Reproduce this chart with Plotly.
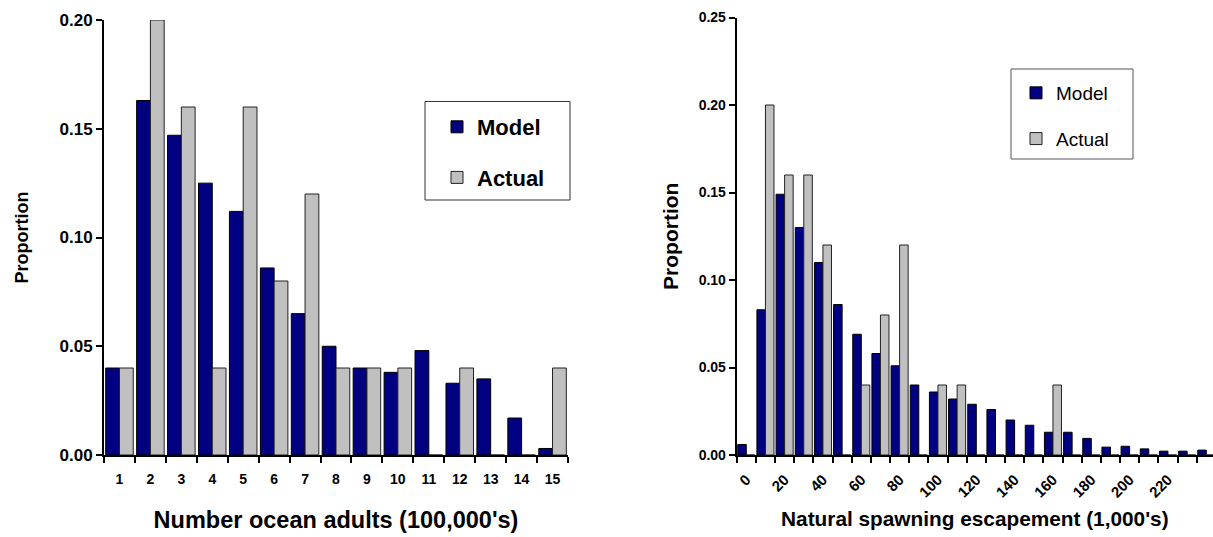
import plotly.graph_objects as go

# ---------------- data ----------------
left_categories = ["1", "2", "3", "4", "5", "6", "7", "8", "9", "10", "11", "12", "13", "14", "15"]
left_model = [0.040, 0.163, 0.147, 0.125, 0.112, 0.086, 0.065, 0.050, 0.040, 0.038, 0.048, 0.033, 0.035, 0.017, 0.003]
left_actual = [0.04, 0.20, 0.16, 0.04, 0.16, 0.08, 0.12, 0.04, 0.04, 0.04, 0.0, 0.04, 0.0, 0.0, 0.04]

right_categories = ["0", "10", "20", "30", "40", "50", "60", "70", "80", "90", "100", "110", "120",
                    "130", "140", "150", "160", "170", "180", "190", "200", "210", "220", "230", "240"]
right_model = [0.006, 0.083, 0.149, 0.130, 0.110, 0.086, 0.069, 0.058, 0.051, 0.040, 0.036, 0.032, 0.029,
               0.026, 0.020, 0.017, 0.013, 0.013, 0.0095, 0.0045, 0.005, 0.0035, 0.0022, 0.0022, 0.0028]
right_actual = [0.0, 0.20, 0.16, 0.16, 0.12, 0.0, 0.04, 0.08, 0.12, 0.0, 0.04, 0.04, 0.0,
                0.0, 0.0, 0.0, 0.04, 0.0, 0.0, 0.0, 0.0, 0.0, 0.0, 0.0, 0.0]
right_tick_labels = ["0", "", "20", "", "40", "", "60", "", "80", "", "100", "", "120",
                     "", "140", "", "160", "", "180", "", "200", "", "220", "", ""]

left_y_ticks = [0.0, 0.05, 0.10, 0.15, 0.20]
right_y_ticks = [0.0, 0.05, 0.10, 0.15, 0.20, 0.25]

series_names = ["Model", "Actual"]

# ---------------- styles ----------------
FONT = "Liberation Sans, Arial, sans-serif"
MODEL_COLOR = "#000080"
ACTUAL_COLOR = "#C0C0C0"
W, H = 1213, 537

fig = go.Figure()

fig.add_trace(go.Bar(x=left_categories, y=left_model, name=series_names[0],
                     marker=dict(color=MODEL_COLOR, line=dict(color="#000000", width=1)),
                     xaxis="x", yaxis="y", legend="legend", legendgroup="lm"))
fig.add_trace(go.Bar(x=left_categories, y=left_actual, name=series_names[1],
                     marker=dict(color=ACTUAL_COLOR, line=dict(color="#222222", width=1)),
                     xaxis="x", yaxis="y", legend="legend", legendgroup="la"))
fig.add_trace(go.Bar(x=right_categories, y=right_model, name=series_names[0],
                     marker=dict(color=MODEL_COLOR, line=dict(color="#000000", width=1)),
                     xaxis="x2", yaxis="y2", legend="legend2", legendgroup="rm"))
fig.add_trace(go.Bar(x=right_categories, y=right_actual, name=series_names[1],
                     marker=dict(color=ACTUAL_COLOR, line=dict(color="#222222", width=1)),
                     xaxis="x2", yaxis="y2", legend="legend2", legendgroup="ra"))

axis_common = dict(showline=True, linecolor="black", linewidth=2, ticks="outside",
                   tickcolor="black", tickwidth=2, showgrid=False, zeroline=False,
                   automargin=False)


def px_x(v):
    return v / W


def px_y(v):
    return 1 - v / H


fig.update_layout(
    width=W, height=H,
    margin=dict(l=0, r=0, t=0, b=0, autoexpand=False),
    paper_bgcolor="white", plot_bgcolor="white",
    barmode="group", bargap=0.11, bargroupgap=0.0,
    font=dict(family=FONT, color="black"),
    xaxis=dict(**axis_common, domain=[px_x(104), px_x(568)], range=[-0.5, 14.5],
               type="category", tickson="boundaries", ticklen=6, anchor="y",
               ticklabelstandoff=10,
               tickfont=dict(size=14, weight="bold"),
               title=dict(text="Number ocean adults (100,000's)",
                          font=dict(size=23.5, weight="bold"), standoff=26)),
    yaxis=dict(**axis_common, domain=[px_y(455), px_y(20)], range=[0, 0.2],
               tickvals=left_y_ticks, tickformat=".2f", ticklen=6, anchor="x",
               tickfont=dict(size=17, weight="bold"),
               title=dict(text="Proportion", font=dict(size=18, weight="bold"), standoff=26)),
    xaxis2=dict(**axis_common, domain=[px_x(736.7), 1.0], range=[-0.5, 24.35],
                type="category", tickson="boundaries", ticklen=6, anchor="y2",
                ticklabelstandoff=8,
                tickvals=right_categories, ticktext=right_tick_labels, tickangle=-45,
                tickfont=dict(size=15, weight="bold"),
                title=dict(text="Natural spawning escapement (1,000's)",
                           font=dict(size=20.8, weight="bold"), standoff=12)),
    yaxis2=dict(**axis_common, domain=[px_y(455), px_y(17.5)], range=[0, 0.25],
                tickvals=right_y_ticks, tickformat=".2f", ticklen=6, anchor="x2",
                tickfont=dict(size=14, weight="bold"),
                title=dict(text="Proportion", font=dict(size=21, weight="bold"), standoff=14)),
    legend=dict(x=px_x(437), y=px_y(106), xanchor="left", yanchor="top",
                bgcolor="rgba(0,0,0,0)", borderwidth=0,
                font=dict(size=22, weight="bold"), tracegroupgap=19,
                traceorder="grouped"),
    legend2=dict(x=px_x(1016), y=px_y(74), xanchor="left", yanchor="top",
                 bgcolor="rgba(0,0,0,0)", borderwidth=0,
                 font=dict(size=19), tracegroupgap=18,
                 traceorder="grouped"),
    shapes=[
        dict(type="rect", xref="paper", yref="paper",
             x0=px_x(425), x1=px_x(570), y0=px_y(200), y1=px_y(101.5),
             line=dict(color="#333333", width=1), fillcolor="white", layer="below"),
        dict(type="rect", xref="paper", yref="paper",
             x0=px_x(1011), x1=px_x(1133), y0=px_y(159), y1=px_y(69),
             line=dict(color="#555555", width=1), fillcolor="white", layer="below"),
    ],
)

fig.write_html(
    "out.html",
    config={"displayModeBar": False},
    post_script="document.body.style.margin='0';document.body.style.overflow='hidden';",
)
